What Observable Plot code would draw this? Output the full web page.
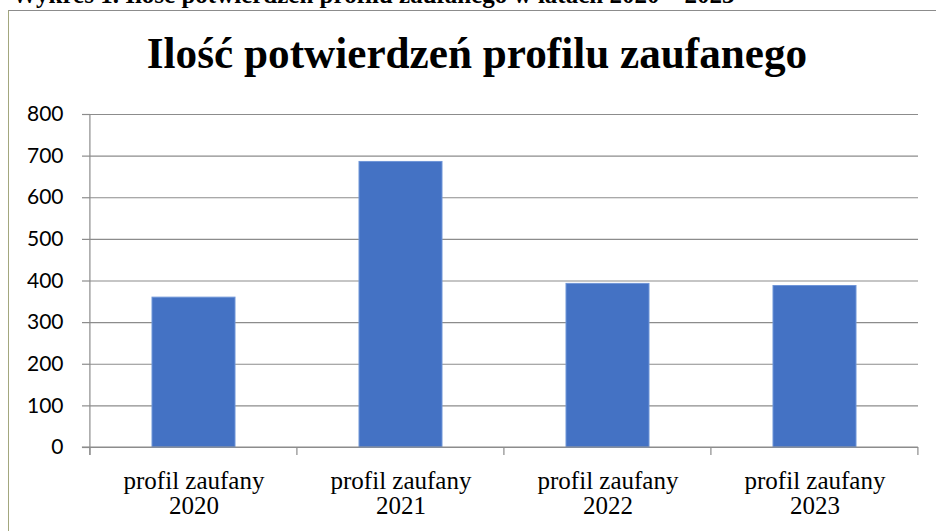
<!DOCTYPE html>
<html>
<head>
<meta charset="utf-8">
<script src="https://cdn.jsdelivr.net/npm/d3@7"></script>
<script src="https://cdn.jsdelivr.net/npm/@observablehq/plot@0.6"></script>
<style>
  html, body { margin: 0; padding: 0; background: #fff; }
  #wrap { position: relative; width: 936px; height: 531px; overflow: hidden; background: #fff; }
  #caption { position: absolute; left: 12px; top: -19px; white-space: nowrap; line-height: 25px;
    font: bold 25px "Liberation Serif", "Times New Roman", serif; color: #000; }
  #frame { position: absolute; left: 8px; top: 10px; width: 960px; height: 560px;
    border: 1px solid #8c8c8c; border-left-color: #a3a77e; box-sizing: border-box; background: #fff; }
  #title { position: absolute; left: 0; width: 954px; top: 27px; text-align: center;
    font: bold 45px "Liberation Serif", "Times New Roman", serif; color: #000;
    transform: scaleX(0.96); transform-origin: 477px 0; }
  #chart { position: absolute; left: 0; top: 0; }
</style>
</head>
<body>
<div id="wrap">
  <div id="caption">Wykres 1. Ilość potwierdzeń profilu zaufanego w latach 2020 – 2023</div>
  <div id="frame"></div>
  <div id="title">Ilość potwierdzeń profilu zaufanego</div>
  <div id="chart"></div>
</div>
<script>
const categories = ["profil zaufany\n2020", "profil zaufany\n2021", "profil zaufany\n2022", "profil zaufany\n2023"];
const values = [360, 686, 393, 388];
const yTicks = [0, 100, 200, 300, 400, 500, 600, 700, 800];
const title = "Ilość potwierdzeń profilu zaufanego";

const data = categories.map((c, i) => ({cat: c, value: values[i]}));
const gridColor = "#8c8c8c";

const plot = Plot.plot({
  width: 936,
  height: 531,
  marginTop: 114,
  marginBottom: 84,
  marginLeft: 90,
  marginRight: 18,
  style: {background: "transparent", overflow: "visible"},
  x: {domain: categories, paddingInner: 0.6, paddingOuter: 0.3, label: null},
  y: {domain: [0, 800], label: null},
  marks: [
    Plot.ruleY(yTicks, {stroke: gridColor, strokeWidth: 1.2, strokeOpacity: 1}),
    Plot.barY(data, {x: "cat", y: "value", fill: "#4472C4", stroke: "#6f95d8", strokeWidth: 1}),
    Plot.axisY({ticks: yTicks, tickSize: 8, tickPadding: 19, stroke: gridColor, strokeWidth: 1.2,
      fontSize: 21, fontFamily: "Lato", fill: "#000", label: null}),
    Plot.axisX({tickSize: 0, tickPadding: 24, fontSize: 25, fontFamily: "Liberation Serif",
      fill: "#000", label: null, lineHeight: 1.0})
  ]
});
document.getElementById("chart").appendChild(plot);

// vertical axis line and x boundary ticks, drawn from the band scale
const svg = d3.select(plot);
const xs = plot.scale("x");
const ys = plot.scale("y");
const step = xs.step;
const x0 = xs.apply(categories[0]) - xs.paddingOuter * step;
const bounds = d3.range(categories.length + 1).map(i => x0 + i * step);
const y0 = ys.apply(0), y800 = ys.apply(800);
const g = svg.append("g").attr("stroke", gridColor).attr("stroke-width", 1.2);
g.append("line").attr("x1", bounds[0]).attr("x2", bounds[0]).attr("y1", y800).attr("y2", y0 + 8);
bounds.forEach(b => g.append("line").attr("x1", b).attr("x2", b).attr("y1", y0).attr("y2", y0 + 8));
g.append("line").attr("x1", bounds[0] - 8).attr("x2", bounds[bounds.length - 1]).attr("y1", y0).attr("y2", y0);
</script>
</body>
</html>
